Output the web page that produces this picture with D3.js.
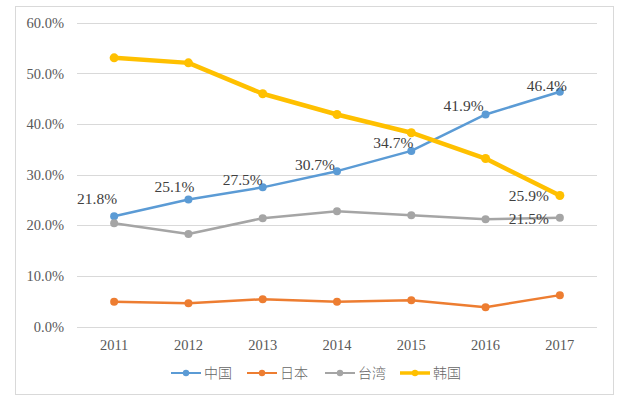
<!DOCTYPE html>
<html>
<head>
<meta charset="utf-8">
<script src="https://cdn.jsdelivr.net/npm/d3@7"></script>
<style>
  body { margin: 0; background: #fff; }
</style>
</head>
<body>
<svg id="chart" width="632" height="409"></svg>
<script>
// data
const years = ["2011", "2012", "2013", "2014", "2015", "2016", "2017"];
const seriesNames = ["中国", "日本", "台湾", "韩国"];
const china = [21.8, 25.1, 27.5, 30.7, 34.7, 41.9, 46.4];
const japan = [4.9, 4.6, 5.4, 4.9, 5.2, 3.8, 6.2];
const taiwan = [20.4, 18.3, 21.4, 22.8, 22.0, 21.2, 21.5];
const korea = [53.1, 52.1, 46.0, 41.9, 38.3, 33.2, 25.9];
const yTicks = [0, 10, 20, 30, 40, 50, 60];

const colors = ["#5B9BD5", "#ED7D31", "#A5A5A5", "#FFC000"];
const widths = [2.5, 2.5, 2.5, 4.5];
const radii = [4, 4, 4, 4.5];

// data labels: which series / index, and offset from the point
const labels = [
  { s: 0, i: 0, dx: -17, dy: -18 },
  { s: 0, i: 1, dx: -14, dy: -13 },
  { s: 0, i: 2, dx: -20, dy: -8 },
  { s: 0, i: 3, dx: -22, dy: -7 },
  { s: 0, i: 4, dx: -18, dy: -8 },
  { s: 0, i: 5, dx: -22, dy: -9 },
  { s: 0, i: 6, dx: -13, dy: -6 },
  { s: 3, i: 6, dx: -31, dy: 0 },
  { s: 2, i: 6, dx: -31, dy: 1 },
];

const allSeries = [china, japan, taiwan, korea];

const svg = d3.select("#chart");

// outer frame
svg.append("rect")
  .attr("x", 15.5).attr("y", 6.5)
  .attr("width", 598).attr("height", 388)
  .attr("fill", "#fff")
  .attr("stroke", "#d9d9d9")
  .attr("stroke-width", 1);

const x = d3.scaleBand().domain(years).range([77, 597]);
const y = d3.scaleLinear().domain([0, 60]).range([326.5, 22.9]);
const cx = d => x(d) + x.bandwidth() / 2;

// gridlines
svg.append("g")
  .selectAll("line")
  .data(yTicks)
  .join("line")
  .attr("x1", 77).attr("x2", 597)
  .attr("y1", d => Math.round(y(d)) + 0.5)
  .attr("y2", d => Math.round(y(d)) + 0.5)
  .attr("stroke", "#d9d9d9")
  .attr("stroke-width", 1);

// y axis labels
svg.append("g")
  .selectAll("text")
  .data(yTicks)
  .join("text")
  .attr("x", 64)
  .attr("y", d => y(d))
  .attr("dy", "0.35em")
  .attr("text-anchor", "end")
  .attr("font-family", "'Liberation Serif', 'Times New Roman', serif")
  .attr("font-size", 14.5)
  .attr("fill", "#595959")
  .text(d => d.toFixed(1) + "%");

// x axis labels
svg.append("g")
  .selectAll("text")
  .data(years)
  .join("text")
  .attr("x", d => cx(d))
  .attr("y", 345)
  .attr("dy", "0.35em")
  .attr("text-anchor", "middle")
  .attr("font-family", "'Liberation Serif', 'Times New Roman', serif")
  .attr("font-size", 14.5)
  .attr("fill", "#595959")
  .text(d => d);

const line = d3.line()
  .x((d, i) => cx(years[i]))
  .y(d => y(d));

// series lines and markers
allSeries.forEach((vals, s) => {
  const g = svg.append("g");
  g.append("path")
    .datum(vals)
    .attr("d", line)
    .attr("fill", "none")
    .attr("stroke", colors[s])
    .attr("stroke-width", widths[s])
    .attr("stroke-linejoin", "round")
    .attr("stroke-linecap", "round");
  g.selectAll("circle")
    .data(vals)
    .join("circle")
    .attr("cx", (d, i) => cx(years[i]))
    .attr("cy", d => y(d))
    .attr("r", radii[s])
    .attr("fill", colors[s]);
});

// data labels
svg.append("g")
  .selectAll("text")
  .data(labels)
  .join("text")
  .attr("x", d => cx(years[d.i]) + d.dx)
  .attr("y", d => y(allSeries[d.s][d.i]) + d.dy)
  .attr("dy", "0.35em")
  .attr("text-anchor", "middle")
  .attr("font-family", "'Liberation Serif', 'Times New Roman', serif")
  .attr("font-size", 15.5)
  .attr("fill", "#404040")
  .text(d => allSeries[d.s][d.i].toFixed(1) + "%");

// legend
const legendX = [171, 247, 325, 400];
const legend = svg.append("g")
  .selectAll("g")
  .data(seriesNames)
  .join("g")
  .attr("transform", (d, i) => `translate(${legendX[i]}, 373)`);

legend.append("line")
  .attr("x1", 0).attr("x2", 30)
  .attr("stroke", (d, i) => colors[i])
  .attr("stroke-width", (d, i) => (i === 3 ? 3.5 : 2));

legend.append("circle")
  .attr("cx", 15)
  .attr("r", 3.2)
  .attr("fill", (d, i) => colors[i]);

legend.append("text")
  .attr("x", 33)
  .attr("dy", "0.35em")
  .attr("font-family", "'Noto Sans CJK TC', 'Noto Sans CJK SC', sans-serif")
  .attr("font-size", 14)
  .attr("font-weight", 300)
  .attr("fill", "#666")
  .text(d => d);
</script>
</body>
</html>
